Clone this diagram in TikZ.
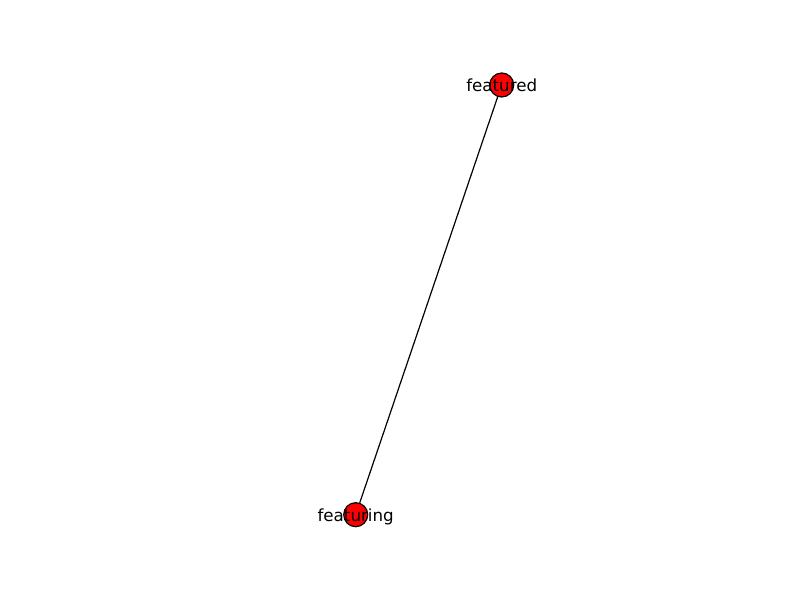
\documentclass[tikz,border=0pt]{standalone}
\usepackage{fontspec}
\setmainfont{DejaVu Sans}
\begin{document}
\begin{tikzpicture}[x=1pt,y=1pt,
  vertex/.style={circle,draw=black,fill=red,line width=1.2pt,minimum size=24pt,inner sep=0pt},
  lbl/.style={font=\fontsize{16.7}{20}\selectfont,inner sep=0pt,anchor=base}]
\useasboundingbox (0,0) rectangle (800,600);
\node[vertex] (a) at (501.7,515) {};
\node[vertex] (b) at (355.7,85.3) {};
\draw[line width=1.2pt] (a) -- (b);
\node[lbl] (la) at (501.7,508.5) {featured};
\node[lbl] (lb) at (355.7,78.8) {featuring};
\end{tikzpicture}
\end{document}
